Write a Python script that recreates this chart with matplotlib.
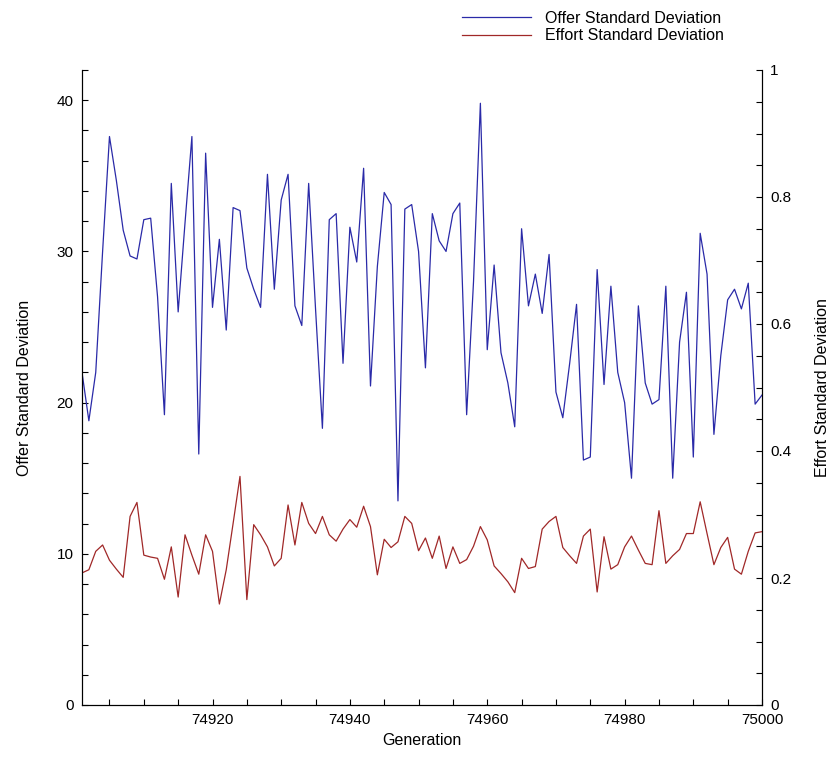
import matplotlib
matplotlib.use("Agg")
import matplotlib.pyplot as plt
from matplotlib.ticker import MultipleLocator, FixedLocator, FuncFormatter
import numpy as np

plt.rcParams['font.family'] = ['Liberation Sans', 'DejaVu Sans']

# generations 74901 .. 75000
generations = np.arange(74901, 75001)

offer_sd = [
    22.0, 18.8, 22.0, 30.0, 37.6, 34.7, 31.4, 29.7, 29.5, 32.1,
    32.2, 27.0, 19.2, 34.5, 26.0, 31.9, 37.6, 16.6, 36.5, 26.3,
    30.8, 24.8, 32.9, 32.7, 28.9, 27.5, 26.3, 35.1, 27.5, 33.4,
    35.1, 26.4, 25.1, 34.5, 26.2, 18.3, 32.1, 32.5, 22.6, 31.6,
    29.3, 35.5, 21.1, 29.0, 33.9, 33.1, 13.5, 32.8, 33.1, 30.0,
    22.3, 32.5, 30.7, 30.0, 32.5, 33.2, 19.2, 28.0, 39.8, 23.5,
    29.1, 23.3, 21.3, 18.4, 31.5, 26.4, 28.5, 25.9, 29.8, 20.7,
    19.0, 22.6, 26.5, 16.2, 16.4, 28.8, 21.2, 27.7, 22.0, 20.0,
    15.0, 26.4, 21.3, 19.9, 20.2, 27.7, 15.0, 24.0, 27.3, 16.4,
    31.2, 28.5, 17.9, 23.1, 26.8, 27.5, 26.2, 27.9, 19.9, 20.5,
]

effort_sd = [
    0.208, 0.213, 0.242, 0.252, 0.228, 0.214, 0.201, 0.297, 0.319, 0.236,
    0.233, 0.231, 0.198, 0.249, 0.170, 0.268, 0.236, 0.206, 0.268, 0.242,
    0.159, 0.213, 0.286, 0.360, 0.166, 0.284, 0.268, 0.249, 0.219, 0.231,
    0.315, 0.252, 0.319, 0.286, 0.270, 0.297, 0.268, 0.258, 0.277, 0.292,
    0.280, 0.313, 0.281, 0.205, 0.261, 0.248, 0.257, 0.297, 0.286, 0.243,
    0.263, 0.231, 0.266, 0.215, 0.249, 0.223, 0.229, 0.250, 0.281, 0.260,
    0.219, 0.207, 0.194, 0.177, 0.231, 0.215, 0.218, 0.277, 0.289, 0.297,
    0.248, 0.235, 0.223, 0.266, 0.277, 0.178, 0.265, 0.214, 0.221, 0.249,
    0.266, 0.244, 0.223, 0.221, 0.306, 0.223, 0.235, 0.245, 0.270, 0.270,
    0.320, 0.270, 0.221, 0.248, 0.264, 0.214, 0.206, 0.242, 0.271, 0.273,
]

offer_color = '#2a2aa8'
effort_color = '#a02828'

fig = plt.figure(figsize=(8.32, 7.58), dpi=100)
ax = fig.add_axes([82 / 832, 53 / 758, 680 / 832, 635 / 758])
ax2 = ax.twinx()

l1, = ax.plot(generations, offer_sd, color=offer_color, lw=0.9)
l2, = ax2.plot(generations, effort_sd, color=effort_color, lw=0.9)

ax.set_xlim(74901, 75000)
ax.set_ylim(0, 42)
ax2.set_ylim(0, 1)

ax.xaxis.set_major_locator(FixedLocator([74920, 74940, 74960, 74980, 75000]))
ax.xaxis.set_minor_locator(MultipleLocator(5))
ax.yaxis.set_major_locator(MultipleLocator(10))
ax.yaxis.set_minor_locator(MultipleLocator(2))
ax2.yaxis.set_major_locator(MultipleLocator(0.2))
ax2.yaxis.set_minor_locator(MultipleLocator(0.05))
ax2.yaxis.set_major_formatter(FuncFormatter(lambda v, p: '%g' % round(v, 2)))

for a in (ax, ax2):
    a.tick_params(which='both', direction='in', length=4, width=0.8,
                  labelsize=11, pad=6)
    a.spines['top'].set_visible(False)
    for s in a.spines.values():
        s.set_linewidth(0.8)
ax.tick_params(axis='x', which='both', top=False)

ax.set_xlabel('Generation', fontsize=11.5)
ax.set_ylabel('Offer Standard Deviation', fontsize=11.5, labelpad=18)
ax2.set_ylabel('Effort Standard Deviation', fontsize=11.5, labelpad=17)

fig.legend([l1, l2], ['Offer Standard Deviation', 'Effort Standard Deviation'],
           loc='upper left', bbox_to_anchor=(462 / 832, 1 - 11 / 758),
           frameon=False, fontsize=11.5, handlelength=4.3, handletextpad=0.9,
           labelspacing=0.15, borderpad=0, borderaxespad=0)

fig.savefig('out.png', dpi=100)
